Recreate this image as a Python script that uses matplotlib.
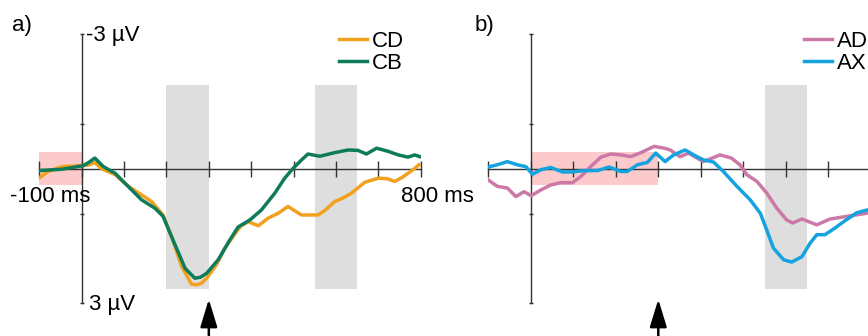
import matplotlib
matplotlib.use("Agg")
import matplotlib.pyplot as plt
from matplotlib.patches import ArrowStyle

plt.rcParams['font.family'] = ['Liberation Sans', 'DejaVu Sans']

# ---------------- data (time in ms, amplitude in µV; negative plotted up) -------------
cd_t = [-100, -79, -47, -20, -4, 15, 31, 47, 79, 110, 141, 165, 192, 212, 236, 259, 271, 283,
        295, 318, 338, 358, 375, 393, 417, 440, 464, 487, 505, 519, 558, 575, 597, 615, 637,
        668, 700, 720, 739, 755, 770, 785, 796]
cd_v = [0.20, 0.06, -0.05, -0.06, -0.07, -0.08, -0.14, 0.00, 0.13, 0.39, 0.58, 0.73, 1.03, 1.51,
        2.18, 2.57, 2.59, 2.55, 2.44, 2.14, 1.77, 1.50, 1.28, 1.18, 1.27, 1.10, 0.99, 0.84, 0.95,
        1.03, 1.03, 0.92, 0.73, 0.66, 0.54, 0.30, 0.21, 0.22, 0.28, 0.20, 0.10, 0.00, -0.09]

cb_t = [-100, -47, 4, 18, 31, 51, 79, 102, 141, 173, 192, 212, 244, 267, 280, 295, 322, 350,
        369, 397, 424, 456, 479, 499, 519, 534, 562, 597, 629, 652, 672, 696, 723, 747, 770,
        786, 798]
cb_v = [0.04, 0.01, -0.07, -0.15, -0.24, -0.05, 0.10, 0.32, 0.69, 0.88, 1.06, 1.51, 2.22, 2.44,
        2.42, 2.33, 2.03, 1.58, 1.30, 1.14, 0.92, 0.54, 0.21, -0.01, -0.20, -0.33, -0.28, -0.36,
        -0.42, -0.41, -0.33, -0.46, -0.39, -0.31, -0.26, -0.31, -0.27]

ad_t = [-100, -79, -55, -35, -16, 1, 24, 47, 71, 98, 118, 141, 165, 188, 212, 235, 259, 290,
        314, 328, 351, 371, 406, 445, 472, 492, 508, 532, 555, 579, 602, 616, 638, 673, 704,
        751, 791]
ad_v = [0.25, 0.39, 0.43, 0.62, 0.51, 0.60, 0.47, 0.36, 0.31, 0.31, 0.17, -0.05, -0.26, -0.33,
        -0.31, -0.27, -0.36, -0.50, -0.46, -0.42, -0.27, -0.35, -0.16, -0.31, -0.24, -0.09, 0.13,
        0.28, 0.54, 0.88, 1.14, 1.21, 1.12, 1.25, 1.12, 1.05, 0.99]

ax_t = [-100, -79, -55, -32, -12, 4, 24, 47, 74, 98, 125, 157, 184, 212, 227, 251, 274, 294,
        316, 336, 363, 391, 406, 430, 453, 485, 516, 540, 555, 571, 595, 614, 638, 657, 673,
        692, 716, 736, 767, 791]
ax_v = [-0.04, -0.09, -0.16, -0.09, -0.05, 0.12, 0.02, -0.03, 0.07, 0.07, 0.04, 0.04, -0.04,
        0.06, 0.06, -0.09, -0.14, -0.35, -0.16, -0.31, -0.42, -0.27, -0.20, -0.15, 0.06, 0.39,
        0.69, 0.99, 1.36, 1.77, 2.03, 2.08, 1.96, 1.66, 1.47, 1.47, 1.32, 1.18, 0.98, 0.92]

x_ticks = list(range(-100, 801, 100))
y_ticks = [-3, -1, 1, 3]
a_windows = [(200, 300), (550, 650)]
b_windows = [(550, 650)]
win_range = (-1.88, 2.69)
a_baseline = (-100, 0)
b_baseline = (0, 300)
base_range = (-0.37, 0.36)
arrow_ms = 300

C_CD, C_CB = '#F2A11F', '#0E7B5A'
C_AD, C_AX = '#CC79A7', '#14A3E0'
GRAY, PINK = '#DEDEDE', '#FCCACA'
AXC = '#333333'
FS = 16
LW = 2.5

W, H = 868, 336
fig = plt.figure(figsize=(W / 100, H / 100), dpi=100)


def make_axes(left_px, width_px):
    ax = fig.add_axes([left_px / W, 1 - 303.3 / H, width_px / W, 269 / H])
    ax.set_xlim(-100, 800)
    ax.set_ylim(3, -3)
    ax.patch.set_visible(False)
    for s in ['top', 'right']:
        ax.spines[s].set_visible(False)
    ax.spines['left'].set_position(('data', 0))
    ax.spines['bottom'].set_position(('data', 0))
    for s in ['left', 'bottom']:
        ax.spines[s].set_color(AXC)
        ax.spines[s].set_linewidth(1.0)
    ax.set_xticks(x_ticks)
    ax.set_yticks(y_ticks)
    ax.tick_params(axis='x', direction='inout', length=11, width=1.0, color=AXC,
                   labelbottom=False)
    ax.tick_params(axis='y', direction='inout', length=3.5, width=1.0, color=AXC,
                   labelleft=False)
    return ax


def shade(ax, windows, baseline):
    for (t0, t1) in windows:
        ax.fill_between([t0, t1], win_range[0], win_range[1], color=GRAY, lw=0, zorder=0)
    ax.fill_between(list(baseline), base_range[0], base_range[1], color=PINK, lw=0, zorder=0)


def arrow(ax):
    ax.annotate('', xy=(arrow_ms, 2.91), xytext=(arrow_ms, 3.9), xycoords='data',
                annotation_clip=False,
                arrowprops=dict(arrowstyle=ArrowStyle('-|>', head_length=0.85, head_width=0.26),
                                mutation_scale=20, color='black', lw=1.8,
                                shrinkA=0, shrinkB=0))


def legend(ax, x_px):
    ax.legend(loc='upper left', bbox_to_anchor=(x_px / W, 1 - 31 / H),
              bbox_transform=fig.transFigure, frameon=False, borderpad=0, borderaxespad=0,
              handlelength=1.25, handletextpad=0.22, labelspacing=0.05, fontsize=FS)


# ---------------- panel a ----------------
axa = make_axes(39.3, 381.4)
shade(axa, a_windows, a_baseline)
axa.plot(cd_t, cd_v, color=C_CD, lw=LW, zorder=3, label='CD', solid_joinstyle='round')
axa.plot(cb_t, cb_v, color=C_CB, lw=LW, zorder=4, label='CB', solid_joinstyle='round')
axa.text(10, -2.86, '-3 µV', fontsize=FS, ha='left', va='baseline')
axa.text(18, 3.15, '3 µV', fontsize=FS, ha='left', va='baseline', clip_on=False)
axa.text(-169, 0.74, '-100 ms', fontsize=FS, ha='left', va='baseline', clip_on=False)
axa.text(753, 0.74, '800 ms', fontsize=FS, ha='left', va='baseline', clip_on=False)
arrow(axa)
legend(axa, 339)

# ---------------- panel b ----------------
axb = make_axes(488.3, 382.5)
shade(axb, b_windows, b_baseline)
axb.plot(ad_t, ad_v, color=C_AD, lw=LW, zorder=3, label='AD', solid_joinstyle='round')
axb.plot(ax_t, ax_v, color=C_AX, lw=LW, zorder=4, label='AX', solid_joinstyle='round')
arrow(axb)
legend(axb, 804)

fig.text(12 / W, 1 - 30.5 / H, 'a)', fontsize=FS, ha='left', va='baseline')
fig.text(475 / W, 1 - 30.5 / H, 'b)', fontsize=FS, ha='left', va='baseline')

fig.savefig('out.png', dpi=100)
